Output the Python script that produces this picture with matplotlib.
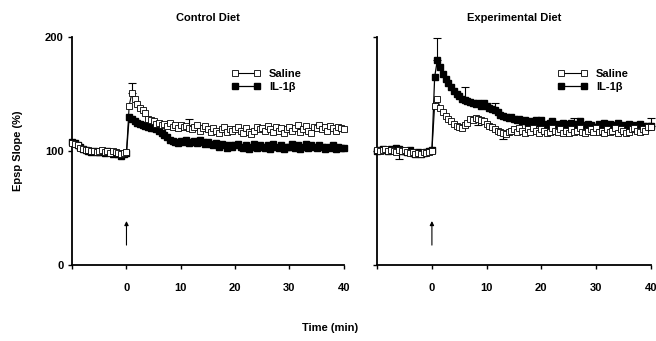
import matplotlib
matplotlib.use("Agg")
import matplotlib.pyplot as plt
from matplotlib.lines import Line2D

plt.rcParams['font.family'] = ['Liberation Sans', 'DejaVu Sans']
plt.rcParams['font.weight'] = 'bold'
plt.rcParams['font.size'] = 8

# sampled every 30 s, from -10 to 40 min
time = [-10 + 0.5 * i for i in range(101)]

ctrl_saline = [107, 106, 105, 103, 102, 101, 101, 100, 100, 99,
               100, 101, 99, 100, 98, 100, 99, 98, 97, 98,
               99, 140, 151, 146, 141, 138, 136, 133, 128, 127,
               126, 124, 125, 123, 124, 122, 125, 121, 123, 120,
               123, 121, 122, 120, 119, 121, 123, 118, 120, 122,
               119, 117, 120, 118, 116, 119, 121, 117, 119, 118,
               119, 121, 118, 116, 120, 117, 115, 118, 121, 119,
               120, 118, 122, 119, 117, 121, 118, 120, 116, 119,
               121, 118, 120, 123, 117, 119, 122, 118, 116, 121,
               120, 123, 119, 121, 118, 122, 120, 118, 121, 120,
               119]
ctrl_il = [108, 107, 105, 104, 102, 101, 100, 99, 100, 99,
           99, 100, 98, 100, 99, 97, 98, 97, 96, 97,
           98, 130, 128, 126, 125, 124, 123, 122, 121, 120,
           120, 119, 118, 116, 114, 112, 110, 109, 108, 107,
           109, 108, 110, 107, 108, 109, 107, 110, 108, 106,
           108, 106, 105, 107, 104, 106, 105, 103, 105, 104,
           105, 106, 104, 103, 105, 102, 104, 106, 103, 105,
           104, 103, 105, 102, 106, 104, 103, 105, 102, 104,
           104, 106, 103, 105, 102, 104, 106, 103, 105, 104,
           103, 105, 104, 102, 104, 103, 105, 102, 104, 103,
           103]
exp_saline = [101, 100, 101, 102, 100, 101, 100, 99, 101, 100,
              101, 99, 98, 99, 97, 98, 97, 99, 98, 99,
              100, 140, 146, 138, 134, 131, 128, 126, 124, 122,
              121, 120, 123, 125, 128, 127, 129, 128, 127, 126,
              124, 122, 121, 119, 118, 117, 116, 115, 117, 118,
              119, 117, 120, 118, 116, 119, 117, 120, 118, 116,
              119, 118, 116, 117, 120, 118, 117, 119, 116, 118,
              116, 119, 117, 118, 120, 117, 116, 118, 119, 117,
              120, 117, 118, 116, 119, 117, 118, 120, 116, 119,
              118, 116, 117, 119, 120, 118, 117, 119, 118, 121,
              121]
exp_il = [100, 101, 102, 101, 100, 102, 101, 103, 102, 100,
          100, 99, 101, 98, 97, 99, 97, 98, 99, 100,
          101, 165, 180, 174, 168, 163, 160, 156, 153, 150,
          148, 146, 145, 144, 143, 142, 141, 142, 140, 142,
          140, 138, 137, 136, 134, 132, 131, 130, 129, 130,
          128, 127, 128, 126, 127, 125, 126, 124, 127, 125,
          127, 124, 123, 125, 126, 123, 124, 122, 125, 124,
          123, 125, 122, 124, 126, 123, 122, 124, 123, 121,
          121, 124, 123, 125, 122, 124, 123, 121, 125, 122,
          123, 121, 124, 122, 123, 120, 124, 122, 120, 122,
          122]

# sparse error bars: (time, size, +1 up / -1 down)
ctrl_saline_err = [(1.0, 9, 1), (11.5, 8, 1)]
ctrl_il_err = []
exp_saline_err = [(-6.0, 8, -1), (8.5, 5, -1), (13.0, 5, -1)]
exp_il_err = [(1.0, 19, 1), (6.0, 11, 1), (11.5, 6, 1), (26.0, 7, 1), (40.0, 7, 1)]

titles = ["Control Diet", "Experimental Diet"]
xticks = [-10, 0, 10, 20, 30, 40]
xticklabels = ["", "0", "10", "20", "30", "40"]
yticks = [0, 100, 200]
legend_x = [0.57, 0.645]

fig = plt.figure(figsize=(6.56, 3.41), dpi=100)
ax1 = fig.add_axes([0.110, 0.223, 0.414, 0.668])
ax2 = fig.add_axes([0.575, 0.223, 0.417, 0.668])

panels = [(ax1, ctrl_saline, ctrl_il, ctrl_saline_err, ctrl_il_err),
          (ax2, exp_saline, exp_il, exp_saline_err, exp_il_err)]

for i, (ax, sal, il, sal_err, il_err) in enumerate(panels):
    for vals, errs in ((il, il_err), (sal, sal_err)):
        for t, e, d in errs:
            v = vals[time.index(t)]
            yerr = [[0], [e]] if d > 0 else [[e], [0]]
            ax.errorbar([t], [v], yerr=yerr, fmt='none', ecolor='black',
                        elinewidth=0.8, capsize=3, capthick=0.8, clip_on=False)
    ax.plot(time, il, color='black', lw=0.9, marker='s', ms=4.6,
            mfc='black', mec='black', clip_on=False, zorder=3)
    ax.plot(time, sal, color='black', lw=0.8, marker='s', ms=4.0,
            mfc='white', mec='black', mew=0.6, clip_on=False, zorder=4)

    ax.set_xlim(-10, 40)
    ax.set_ylim(0, 200)
    ax.set_xticks(xticks)
    ax.set_xticklabels(xticklabels)
    ax.set_yticks(yticks)
    ax.spines['top'].set_visible(False)
    ax.spines['right'].set_visible(False)
    ax.spines['left'].set_linewidth(1.3)
    ax.spines['bottom'].set_linewidth(1.3)
    ax.tick_params(direction='out', length=3, width=1, pad=10)
    ax.tick_params(axis='y', pad=3)
    ax.set_title(titles[i], fontsize=8, fontweight='bold', pad=12)

    ax.annotate('', xy=(0, 41), xytext=(0, 15),
                arrowprops=dict(arrowstyle='-|>', lw=0.8, color='black',
                                mutation_scale=6))

    handles = [Line2D([], [], color='black', lw=0.8, marker='s', ms=4.0,
                      mfc='white', mec='black', mew=0.6),
               Line2D([], [], color='black', lw=0.9, marker='s', ms=4.6,
                      mfc='black', mec='black')]
    ax.legend(handles, ["Saline", "IL-1β"], loc='upper left',
              bbox_to_anchor=(legend_x[i], 0.88), frameon=False,
              handlelength=2.6, handletextpad=0.8, labelspacing=0.3,
              borderaxespad=0, fontsize=8, numpoints=2)

ax2.set_yticklabels([])
ax1.set_ylabel("Epsp Slope (%)", fontsize=8, fontweight='bold', labelpad=16)
fig.text(0.503, 0.038, "Time (min)", ha='center', va='center',
         fontsize=8, fontweight='bold')

fig.savefig("out.png", dpi=100)
